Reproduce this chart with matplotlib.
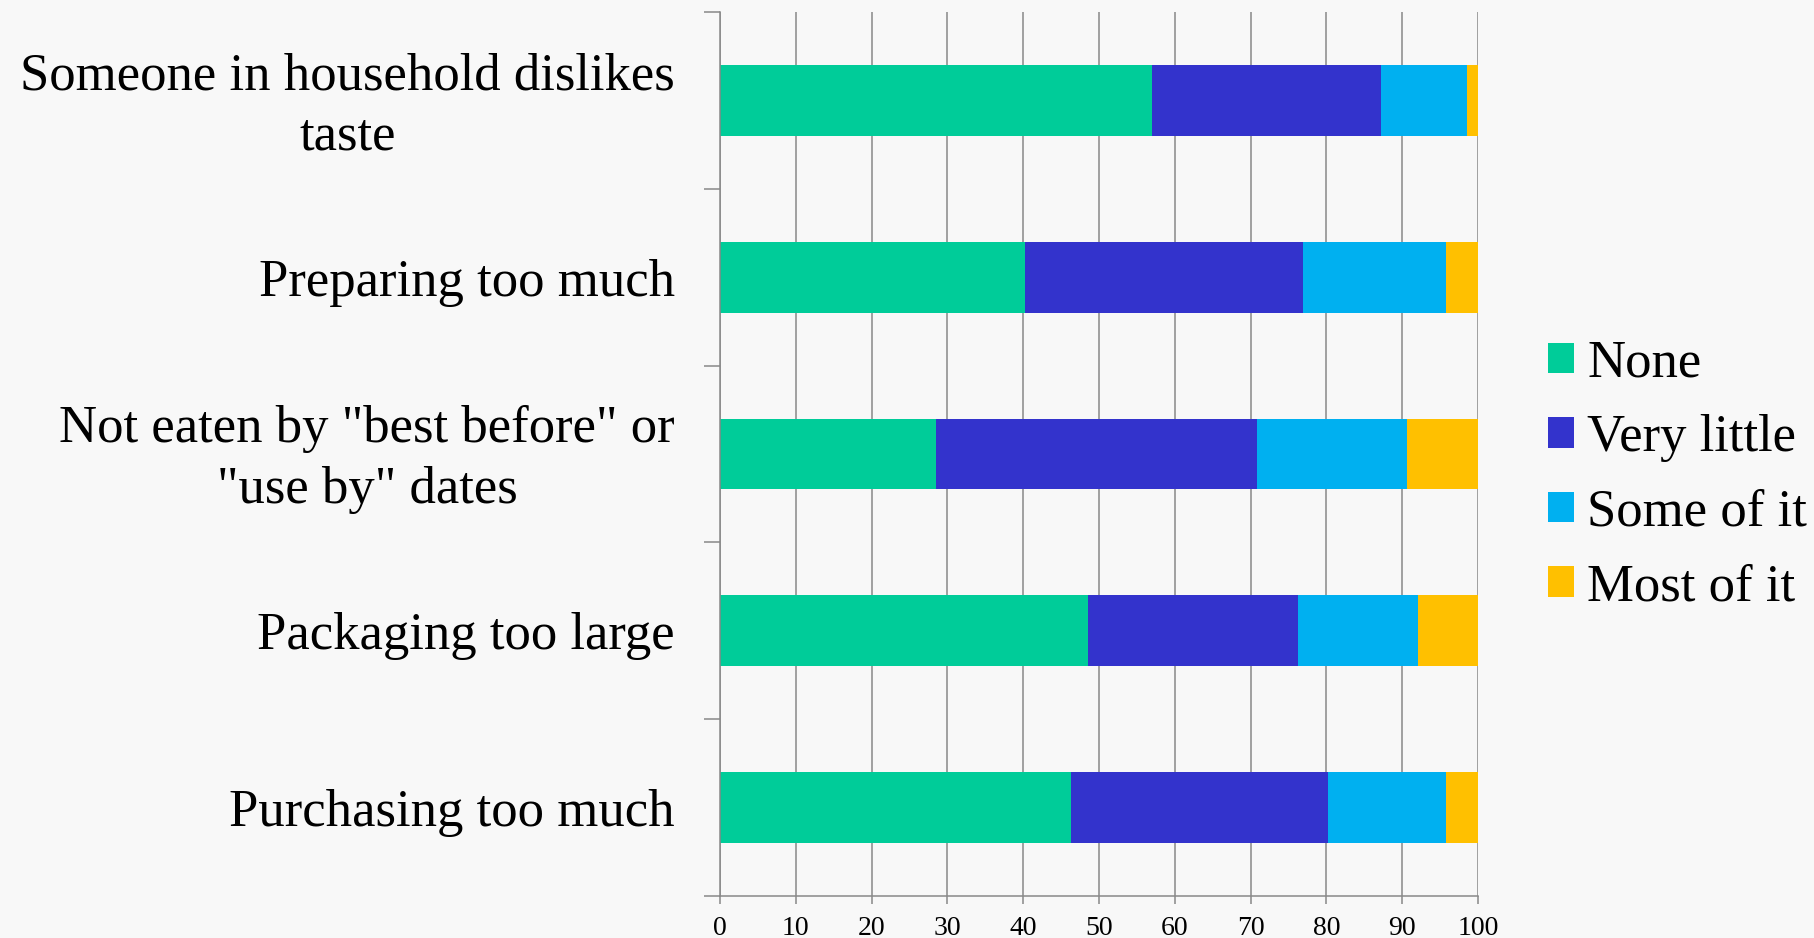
import matplotlib
matplotlib.use("Agg")
import matplotlib.pyplot as plt
import matplotlib.transforms as mtransforms
import numpy as np

# Reasons for wasting food, top to bottom
categories = [
    "Someone in household dislikes\ntaste",
    "Preparing too much",
    "Not eaten by \"best before\" or\n\"use by\" dates",
    "Packaging too large",
    "Purchasing too much",
]

# Share of respondents (%) per answer
series_names = ["None", "Very little", "Some of it", "Most of it"]
none_vals = [57.0, 40.3, 28.5, 48.5, 46.3]
very_little_vals = [30.2, 36.6, 42.3, 27.8, 33.9]
some_vals = [11.3, 18.9, 19.8, 15.8, 15.6]
most_vals = [1.5, 4.2, 9.4, 7.9, 4.2]

x_ticks = list(range(0, 101, 10))

colors = ["#00CC99", "#3333CC", "#00B0F0", "#FFC000"]
bg = "#F8F8F8"
line_col = "#888888"

plt.rcParams["font.family"] = ["Liberation Serif", "DejaVu Serif"]

fig = plt.figure(figsize=(18.14, 9.38), dpi=100, facecolor=bg)
ax = fig.add_axes([0.3969, 0.0451, 0.4179, 0.9418], facecolor=bg)

y = np.arange(len(categories))
left = np.zeros(len(categories))
for name, vals, c in zip(series_names,
                         [none_vals, very_little_vals, some_vals, most_vals],
                         colors):
    ax.barh(y, vals, left=left, height=0.4, color=c, label=name, zorder=3)
    left = left + np.array(vals)

ax.set_xlim(0, 100)
ax.set_ylim(len(categories) - 0.5, -0.5)

# x axis
ax.set_xticks(x_ticks)
ax.set_xticklabels([str(t) for t in x_ticks], fontsize=20)
ax.tick_params(axis="x", direction="out", length=5.8, width=1.1,
               color=line_col, pad=8.5)
ax.grid(axis="x", color=line_col, linewidth=1.1, zorder=1)

# y axis: tick marks at category boundaries, labels at centres
ax.set_yticks(np.arange(-0.5, len(categories), 1.0))
ax.set_yticklabels([])
ax.tick_params(axis="y", which="major", direction="out", length=11.5,
               width=1.1, color=line_col)
ax.set_yticks(y, minor=True)
ax.set_yticklabels(categories, minor=True, fontsize=38,
                   multialignment="center", linespacing=1.33,
                   va="center")
ax.tick_params(axis="y", which="minor", length=0, pad=32.5)

# nudge category labels down a little
shift = mtransforms.ScaledTranslation(0, -5.5 / 100, fig.dpi_scale_trans)
for lbl in ax.get_yticklabels(minor=True):
    lbl.set_transform(lbl.get_transform() + shift)

for side in ["top", "right"]:
    ax.spines[side].set_visible(False)
for side in ["left", "bottom"]:
    ax.spines[side].set_color(line_col)
    ax.spines[side].set_linewidth(1.1)
    ax.spines[side].set_zorder(4)

ax.legend(loc="center left", bbox_to_anchor=(0.8534, 0.493),
          bbox_transform=fig.transFigure, frameon=False, fontsize=38,
          handlelength=0.49, handleheight=0.51, handletextpad=0.25,
          labelspacing=0.5, borderpad=0, borderaxespad=0)

fig.savefig("out.png", dpi=100, facecolor=bg)
